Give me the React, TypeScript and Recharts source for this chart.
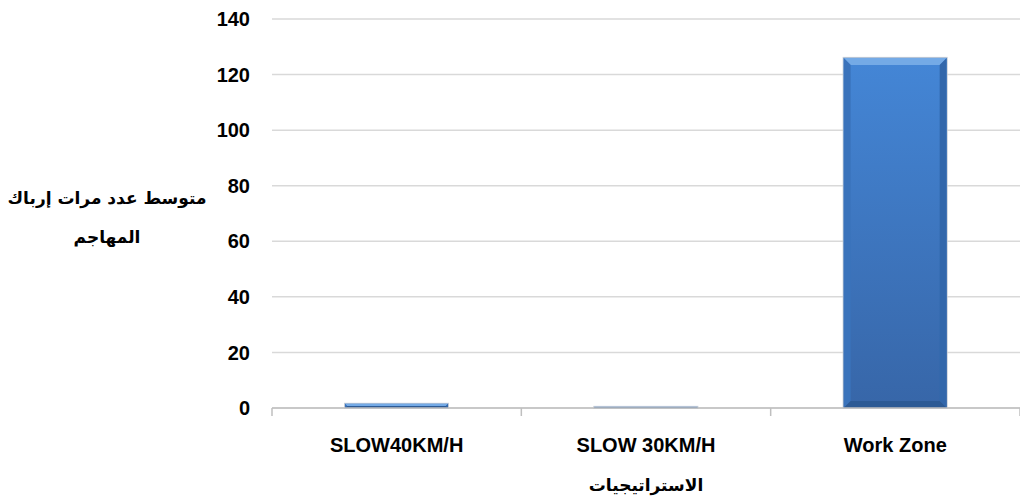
import React from 'react';
import { BarChart, Bar, XAxis, YAxis, CartesianGrid } from 'recharts';

const categories = ['SLOW40KM/H', 'SLOW 30KM/H', 'Work Zone'];
const meanDisruptions = [1.5, 0.4, 126];
const yTicks = [0, 20, 40, 60, 80, 100, 120, 140];

const yTitleLines = ['متوسط عدد مرات إرباك', 'المهاجم'];
const xTitle = 'الاستراتيجيات';

const data = categories.map((name, i) => ({ name, value: meanDisruptions[i] }));

const W = 1020;
const H = 503;
const MARGIN = { top: 19, right: 0, bottom: 0, left: 0 };
const Y_AXIS_W = 272;
const X_AXIS_H = 95;
const PLOT_W = W - MARGIN.left - MARGIN.right - Y_AXIS_W;
const BAND = PLOT_W / categories.length;

const tickFont = "'Liberation Sans', Arial, sans-serif";
const arabicFont = "'DejaVu Sans', sans-serif";

// bar with bevelled edges like an office 3D preset
const BevelBar = (props: any) => {
  const { x, y, width, height } = props;
  if (!height || height <= 0) return null;
  const b = Math.min(7, height / 2, width / 2);
  const x2 = x + width;
  const y2 = y + height;
  return (
    <g>
      <rect x={x - 1} y={y - 1} width={width + 2} height={height + 2} fill="#c3cbd6" />
      <rect x={x} y={y} width={width} height={height} fill="url(#barFill)" />
      <polygon points={`${x},${y} ${x2},${y} ${x2 - b},${y + b} ${x + b},${y + b}`} fill="#74aae6" />
      <polygon points={`${x},${y} ${x + b},${y + b} ${x + b},${y2 - b} ${x},${y2}`} fill="#3a73bb" />
      <polygon points={`${x2},${y} ${x2 - b},${y + b} ${x2 - b},${y2 - b} ${x2},${y2}`} fill="#3267ab" />
      <polygon points={`${x},${y2} ${x + b},${y2 - b} ${x2 - b},${y2 - b} ${x2},${y2}`} fill="#2c5a95" />
    </g>
  );
};

const XTick = (props: any) => {
  const { x, y, payload, index } = props;
  const left = x - BAND / 2;
  return (
    <g>
      <line x1={left} x2={left} y1={y - 8} y2={y} stroke="#bfbfbf" strokeWidth={1.5} />
      {index === categories.length - 1 && (
        <line x1={left + BAND} x2={left + BAND} y1={y - 8} y2={y} stroke="#bfbfbf" strokeWidth={1.5} />
      )}
      <text x={x} y={y + 36} textAnchor="middle" fontFamily={tickFont} fontWeight="bold" fontSize={20} fill="#000">
        {payload.value}
      </text>
    </g>
  );
};

const YTitle = (props: any) => {
  const { viewBox } = props;
  const cy = viewBox.y + viewBox.height / 2;
  return (
    <text x={107} y={cy - 10} textAnchor="middle" fontFamily={arabicFont} fontWeight="bold" fontSize={17} fill="#000" direction="rtl">
      {yTitleLines.map((line, i) => (
        <tspan key={i} x={107} dy={i === 0 ? 0 : 39}>{line}</tspan>
      ))}
    </text>
  );
};

const XTitle = (props: any) => {
  const { viewBox } = props;
  return (
    <text x={viewBox.x + viewBox.width / 2} y={viewBox.y + 83} textAnchor="middle" fontFamily={arabicFont} fontWeight="bold" fontSize={17} fill="#000" direction="rtl">
      {xTitle}
    </text>
  );
};

export default function App() {
  return (
    <div style={{ position: 'absolute', left: 0, top: 0, width: W, height: H, background: '#fff' }}>
      <BarChart width={W} height={H} data={data} margin={MARGIN}>
        <defs>
          <linearGradient id="barFill" x1="0" y1="0" x2="0" y2="1">
            <stop offset="0%" stopColor="#4486d6" />
            <stop offset="100%" stopColor="#3766a8" />
          </linearGradient>
        </defs>
        <CartesianGrid vertical={false} stroke="#d9d9d9" strokeWidth={1.5} />
        <XAxis
          dataKey="name"
          height={X_AXIS_H}
          axisLine={{ stroke: '#bfbfbf', strokeWidth: 1.5 }}
          tickLine={false}
          tick={<XTick />}
          interval={0}
          label={<XTitle />}
        />
        <YAxis
          width={Y_AXIS_W}
          domain={[0, 140]}
          ticks={yTicks}
          axisLine={false}
          tickLine={false}
          tickSize={0}
          tickMargin={22}
          tick={{ fontFamily: tickFont, fontWeight: 'bold', fontSize: 20, fill: '#000' }}
          label={<YTitle />}
        />
        <Bar dataKey="value" barSize={103} shape={<BevelBar />} isAnimationActive={false} />
      </BarChart>
    </div>
  );
}
